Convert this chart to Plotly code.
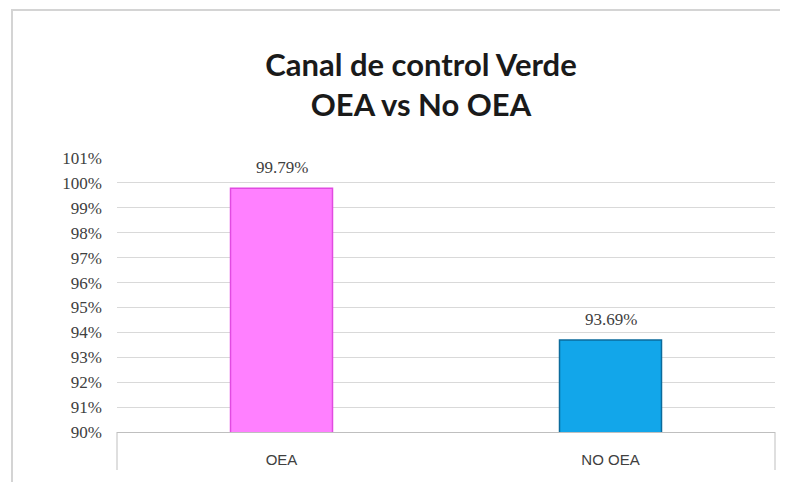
import plotly.graph_objects as go

# Data
categories = ["OEA", "NO OEA"]
values = [99.79, 93.69]
labels = ["99.79%", "93.69%"]
bar_colors = ["#FF80FF", "#12A6EA"]
bar_lines = ["#E14BE1", "#0B6B9C"]

W, H = 780, 474          # page adds an 8px body margin
L, R, T, B = 109, 13, 150, 50
PW, PH = W - L - R, H - T - B

fig = go.Figure(go.Bar(
    x=categories,
    y=values,
    width=0.31,
    marker={"color": bar_colors, "line": {"color": bar_lines, "width": 1.5}},
    hoverinfo="skip",
))

# Value labels above the bars
for cat, val, lab in zip(categories, values, labels):
    fig.add_annotation(
        x=cat, y=val, text=lab, showarrow=False, yshift=21,
        font={"family": "Liberation Serif", "size": 17, "color": "#404040"},
    )

fig.update_layout(
    width=W,
    height=H,
    margin={"l": L, "r": R, "t": T, "b": B},
    paper_bgcolor="white",
    plot_bgcolor="white",
    showlegend=False,
    title={
        "text": "<b>Canal de control Verde<br>OEA vs No OEA</b>",
        "x": 413 / W, "xanchor": "center",
        "y": 1 - 68 / H, "yanchor": "top",
        "font": {"family": "Lato", "size": 31, "color": "#1a1a1a"},
    },
    font={"family": "Liberation Serif", "size": 17, "color": "#404040"},
    xaxis={
        "showline": True, "linecolor": "#BFBFBF", "linewidth": 1,
        "ticks": "", "showgrid": False, "ticklabelstandoff": 14,
        "tickfont": {"family": "Liberation Sans", "size": 15, "color": "#404040"},
    },
    yaxis={
        "range": [90, 101], "dtick": 1, "ticksuffix": "%",
        "showgrid": True, "gridcolor": "#D9D9D9", "gridwidth": 1,
        "zeroline": False, "showline": False, "ticks": "",
        "tickfont": {"family": "Liberation Serif", "size": 17, "color": "#404040"},
        "ticklabelstandoff": 14,
    },
    shapes=[
        # outer chart frame
        {"type": "rect", "xref": "paper", "yref": "paper",
         "x0": -105 / PW, "x1": 1.05, "y0": -0.4, "y1": 1 + 148 / PH,
         "line": {"color": "#D4D4D4", "width": 2}},
        # category axis end ticks
        {"type": "line", "xref": "paper", "yref": "paper",
         "x0": 0, "x1": 0, "y0": 0, "y1": -38 / PH,
         "line": {"color": "#BFBFBF", "width": 1}},
        {"type": "line", "xref": "paper", "yref": "paper",
         "x0": 1, "x1": 1, "y0": 0, "y1": -38 / PH,
         "line": {"color": "#BFBFBF", "width": 1}},
    ],
)

fig.write_html("out.html")
